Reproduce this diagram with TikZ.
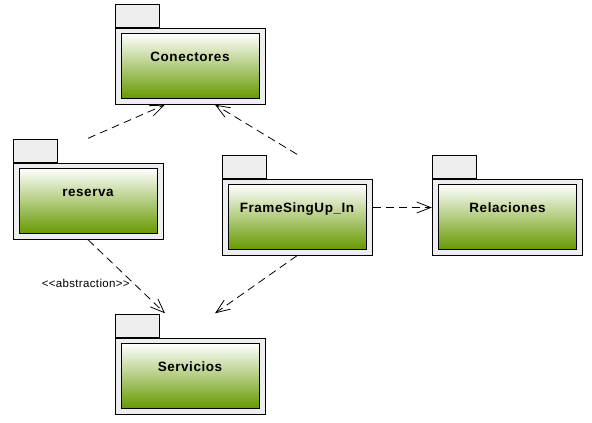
\documentclass[tikz,border=0pt]{standalone}
\usepackage{fontspec}
\setmainfont{Liberation Sans}
\newfontfamily\pkgfont[LetterSpace=4]{Liberation Sans}
\newfontfamily\labelfont[LetterSpace=3]{Liberation Sans}
\usetikzlibrary{arrows.meta,fit,positioning}
\definecolor{pkggreen}{RGB}{102,153,0}
\definecolor{pkggray}{RGB}{238,238,238}
\tikzset{%
	pkgbody/.style  = {draw, fill=pkggray, line width=1pt, minimum width=150pt, minimum height=76pt, inner sep=0pt}, % Package
	pkgtab/.style   = {draw, fill=pkggray, line width=1pt, anchor=south west, minimum width=44pt, minimum height=23pt, inner sep=0pt}, % Tab
	pkginner/.style = {draw, line width=1pt, top color=white, bottom color=pkggreen, minimum width=138pt, minimum height=65pt, inner sep=0pt, font=\pkgfont\fontsize{13.5}{15}\selectfont\bfseries, text height=9.5pt, text depth=18pt}, % Name
	pkgfit/.style   = {inner sep=0pt}, % Whole package
	depends/.style  = {line width=0.8pt, dash pattern=on 8pt off 5pt, -{Straight Barb[length=14pt,width=11pt]}},
}

\begin{document}
\begin{tikzpicture}[x=1pt,y=-1pt]
	\useasboundingbox (0,0) rectangle (592,423);
	% Conectores
	\node [pkgbody] (conBody) at (190,66) {};
	\node [pkgtab] (conTab) at (conBody.north west) {};
	\node [pkginner] (conIn) at (conBody) {Conectores};
	\node [pkgfit, fit=(conTab)(conBody)] (con) {};
	% reserva
	\node [pkgbody] (resBody) at (88,201) {};
	\node [pkgtab] (resTab) at (resBody.north west) {};
	\node [pkginner] (resIn) at (resBody) {reserva};
	\node [pkgfit, fit=(resTab)(resBody)] (res) {};
	% FrameSingUp_In
	\node [pkgbody] (frameBody) at (297,217) {};
	\node [pkgtab] (frameTab) at (frameBody.north west) {};
	\node [pkginner] (frameIn) at (frameBody) {FrameSingUp\_In};
	\node [pkgfit, fit=(frameTab)(frameBody)] (frame) {};
	% Relaciones
	\node [pkgbody] (relBody) at (507.5,217) {};
	\node [pkgtab] (relTab) at (relBody.north west) {};
	\node [pkginner] (relIn) at (relBody) {Relaciones};
	\node [pkgfit, fit=(relTab)(relBody)] (rel) {};
	% Servicios
	\node [pkgbody] (servBody) at (190,376) {};
	\node [pkgtab] (servTab) at (servBody.north west) {};
	\node [pkginner] (servIn) at (servBody) {Servicios};
	\node [pkgfit, fit=(servTab)(servBody)] (serv) {};
	% dependencies
	\draw[depends] (res.north) -- ([xshift=-25pt]con.south);
	\draw[depends] (frame.north) -- ([xshift=25pt]con.south);
	\draw[depends] ([yshift=-2.5pt]frame.east) -- ([yshift=-2.5pt]rel.west);
	\draw[depends] (res.south) -- node[pos=0.59, left, font=\labelfont\fontsize{11.5}{13}\selectfont] {<<abstraction>>} ([xshift=-25pt]serv.north);
	\draw[depends] (frame.south) -- ([xshift=25pt]serv.north);
\end{tikzpicture}
\end{document}
